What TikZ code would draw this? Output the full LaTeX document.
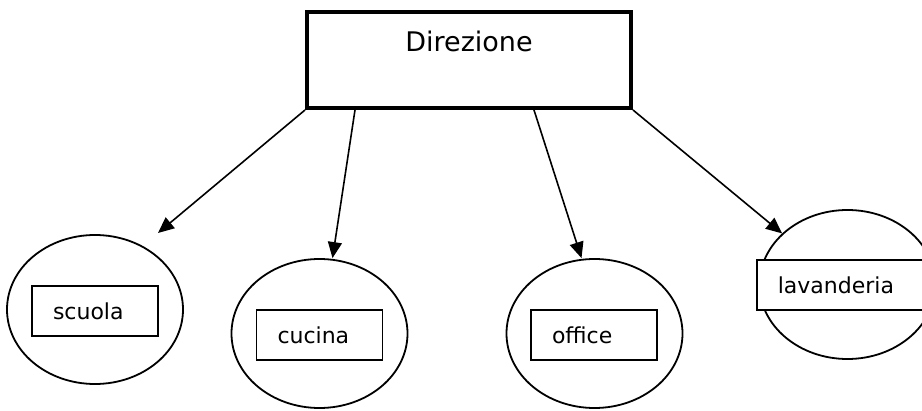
\documentclass[tikz,border=0pt]{standalone}
\usepackage{fontspec}
\setmainfont{DejaVu Sans}
\usetikzlibrary{shapes.geometric,arrows.meta}

\begin{document}
\begin{tikzpicture}[x=1pt,y=-1pt,
    reparto/.style={draw,ellipse,line width=1.8pt,inner sep=0pt,minimum width=176pt,minimum height=149pt},
    voce/.style={draw,fill=white,line width=1.7pt,inner ysep=0pt,inner xsep=21pt,minimum height=50pt,text width=84pt,align=left,font=\fontsize{22}{26}\selectfont},
    freccia/.style={line width=1.6pt,-{Triangle[length=16pt,width=14pt]}}]
  \path[use as bounding box,clip] (0,0) rectangle (922,411);
  \node[draw,line width=4pt,inner sep=0pt,minimum width=324pt,text height=40pt,text depth=56pt,anchor=base,font=\fontsize{27}{32}\selectfont] (dir) at (469,52) {Direzione};

  \node[reparto] (scuola) at (95,309.5) {};
  \node[reparto] (cucina) at (319.5,333.5) {};
  \node[reparto] (office) at (594.5,333.5) {};
  \node[reparto] (lavanderia) at (847.5,284.5) {};

  \node[voce] (tscuola) at (95,311) {scuola};
  \node[voce] (tcucina) at (319.5,335) {cucina};
  \node[voce] (toffice) at (594,335) {office};
  \node[voce,text width=130pt,anchor=west] (tlavanderia) at (756,285) {lavanderia};

  \coordinate (scuolatip) at (158,233);
  \draw[freccia] (dir.south west) -- (scuolatip);
  \draw[freccia] ([xshift=50pt]dir.south west) -- ([xshift=13pt]cucina.north);
  \draw[freccia] ([xshift=-99pt]dir.south east) -- ([xshift=-13pt]office.north);
  \draw[freccia] (dir.south east) -- (lavanderia.142);
\end{tikzpicture}
\end{document}
